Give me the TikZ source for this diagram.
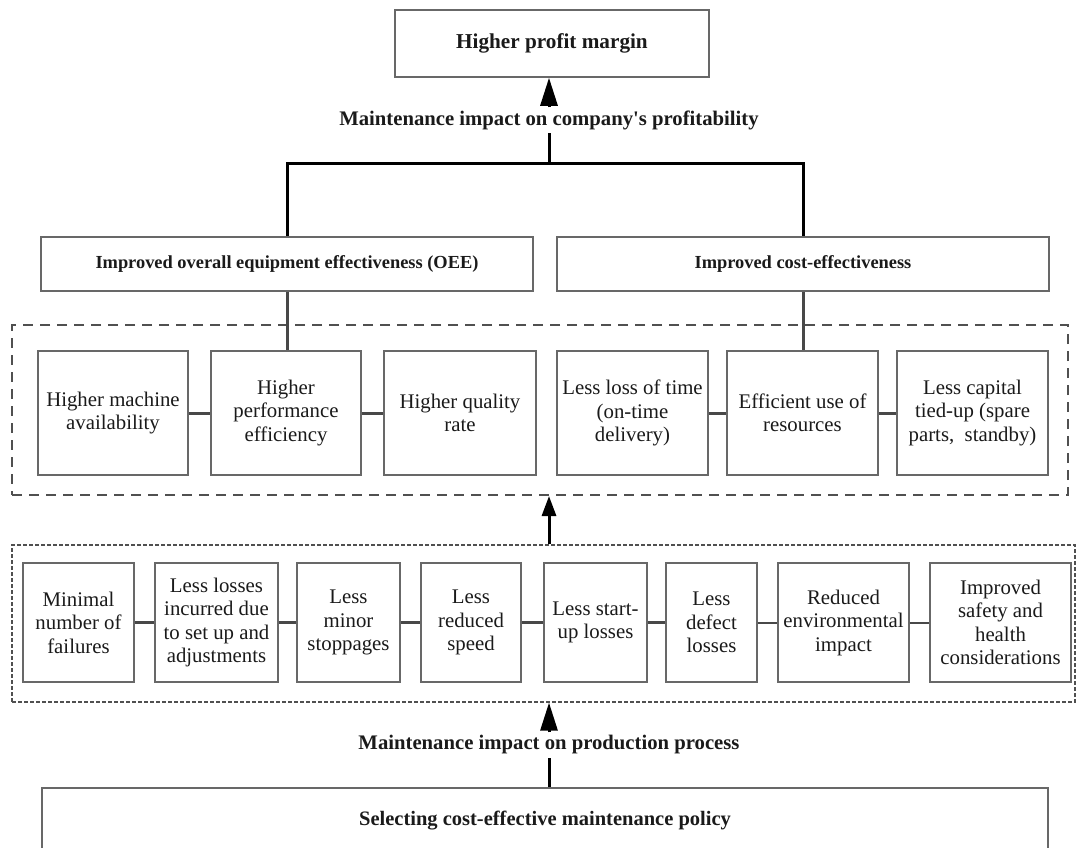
\documentclass[tikz,border=0pt]{standalone}
\usepackage{fontspec}
\setmainfont{Liberation Serif}
\usetikzlibrary{arrows.meta}
\definecolor{ink}{HTML}{1A1A1A}
\definecolor{edge}{HTML}{686868}
\definecolor{wire}{HTML}{484848}
\definecolor{dashgray}{HTML}{505050}

\begin{document}
\begin{tikzpicture}[x=1pt,y=-1pt,
  every node/.style={text=ink},
  box/.style={draw=edge, line width=1.6pt, fill=white, align=center,
    inner xsep=1pt, inner ysep=2pt, font=\fontsize{20.8}{23.5}\selectfont},
  rowone/.style={box, minimum height=124pt},
  rowtwo/.style={box, minimum height=119pt},
  headbox/.style={draw=edge, line width=1.6pt, fill=white, align=center,
    minimum width=492pt, minimum height=54pt,
    font=\bfseries\fontsize{18.4}{22}\selectfont},
  caption/.style={font=\bfseries\fontsize{20.7}{24}\selectfont, inner sep=3pt},
  tree/.style={draw=black, line width=3pt},
  link/.style={draw=wire, line width=3pt},
  thinlink/.style={draw=wire, line width=2pt},
  uparrow/.style={draw=black, line width=3pt, -{Triangle[length=28pt,width=17pt]}},
  smallarrow/.style={draw=black, line width=3pt, -{Triangle[length=20pt,width=14pt]}},
  groupa/.style={draw=dashgray, line width=2pt, dash pattern=on 10pt off 7pt},
  groupb/.style={draw=dashgray, line width=1.3pt, dash pattern=on 4pt off 2pt},
]
\useasboundingbox (0,0) rectangle (1076,848);
\fill[white] (0,0) rectangle (1076,848);

% top goal and its caption
\node[draw=edge, line width=1.6pt, minimum width=314pt, minimum height=67pt,
  font=\bfseries\fontsize{21.2}{24}\selectfont] (goal) at (552,43.5) {Higher profit margin};
\node[caption] (cap1) at (549,120) {Maintenance impact on company\textquotesingle s profitability};
\coordinate (jn) at (549,163);

% two effect headings
\node[headbox] (oee) at (287,264) {Improved overall equipment effectiveness (OEE)};
\node[headbox] (cost) at (803,264) {Improved cost-effectiveness};

% dashed groups
\node[groupa, minimum width=1056pt, minimum height=170pt] (grp1) at (540,410) {};
\node[groupb, minimum width=1063pt, minimum height=157pt] (grp2) at (543.5,623.5) {};

% first row
\node[rowone, minimum width=150pt] (a1) at (113,413) {Higher machine\\availability};
\node[rowone, minimum width=150pt] (a2) at (286,413) {Higher\\performance\\efficiency};
\node[rowone, minimum width=152pt] (a3) at (460,413) {Higher quality\\rate};
\node[rowone, minimum width=151pt] (a4) at (632.5,413) {Less loss of time\\(on-time\\delivery)};
\node[rowone, minimum width=151pt] (a5) at (802.5,413) {Efficient use of\\resources};
\node[rowone, minimum width=151pt] (a6) at (972.5,413) {Less capital\\tied-up (spare\\parts,~ standby)};

% second row
\node[rowtwo, minimum width=111pt] (b1) at (78.5,622.5) {Minimal\\number of\\failures};
\node[rowtwo, minimum width=123pt] (b2) at (216.5,622.5) {Less losses\\incurred due\\to set up and\\adjustments};
\node[rowtwo, minimum width=103pt] (b3) at (348.5,622.5) {Less\\minor\\stoppages};
\node[rowtwo, minimum width=100pt] (b4) at (471,622.5) {Less\\reduced\\speed};
\node[rowtwo, minimum width=103pt] (b5) at (595.5,622.5) {Less start-\\up losses};
\node[rowtwo, minimum width=91pt] (b6) at (711.5,622.5) {Less\\defect\\losses};
\node[rowtwo, minimum width=131pt] (b7) at (843.5,622.5) {Reduced\\environmental\\impact};
\node[rowtwo, minimum width=141pt] (b8) at (1000.5,622.5) {Improved\\safety and\\health\\considerations};

% bottom policy and its caption
\node[caption] (cap2) at (549,745) {Maintenance impact on production process};
\node[draw=edge, line width=1.6pt, anchor=north, minimum width=1006pt,
  text height=38pt, text depth=45pt, inner ysep=0pt,
  font=\bfseries\fontsize{20.5}{24}\selectfont] (policy) at (545,787)
  {Selecting cost-effective maintenance policy};

% links inside rows
\draw[link] (a1) -- (a2);
\draw[link] (a2) -- (a3);
\draw[link] (a4) -- (a5);
\draw[link] (a5) -- (a6);
\draw[link] (b1) -- (b2);
\draw[link] (b2) -- (b3);
\draw[link] (b3) -- (b4);
\draw[link] (b4) -- (b5);
\draw[link] (b5) -- (b6);
\draw[thinlink] (b6) -- (b7);
\draw[thinlink] (b7) -- (b8);

% headings to rows
\draw[link] (oee.south) -- (oee.south |- a2.north);
\draw[link] (cost.south) -- (cost.south |- a5.north);

% tree to the goal
\draw[tree] (oee.north) |- (jn) -| (cost.north);
\draw[tree] (jn) -- (cap1.south);
\draw[uparrow] (cap1.north) -- (cap1.north |- goal.south);

% flow between groups
\draw[smallarrow] (cap1.south |- grp2.north) -- (cap1.south |- grp1.south);
\draw[uparrow] (cap2.north) -- (cap2.north |- grp2.south);
\draw[tree] (cap2.south |- policy.north) -- (cap2.south);
\end{tikzpicture}
\end{document}
